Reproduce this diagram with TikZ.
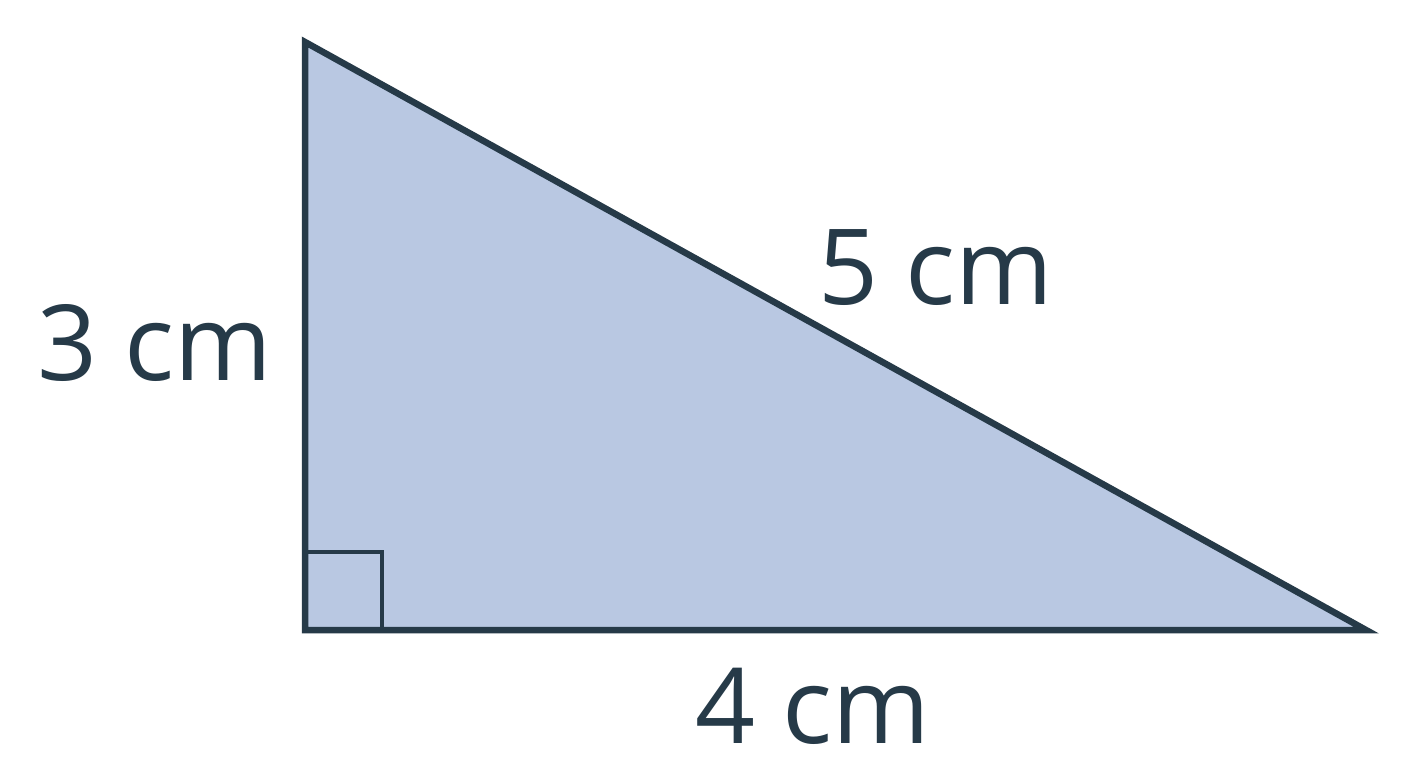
\documentclass[tikz,border=0pt]{standalone}
\usepackage{fontspec}
\setmainfont{Open Sans}
\definecolor{edge}{HTML}{263A48}
\definecolor{fillc}{HTML}{B9C8E2}
\begin{document}
\begin{tikzpicture}[x=1pt,y=-1pt,
  lab/.style={font=\fontsize{105}{112}\selectfont, text=edge, inner sep=0pt, anchor=base}]
\useasboundingbox (0,0) rectangle (1408,768);
\coordinate (A) at (305,42);
\coordinate (B) at (305,630);
\coordinate (C) at (1366,630);
\fill[fillc] (A) -- (B) -- (C) -- cycle;
\draw[edge, line width=3.5pt] (305,552) -- (382,552) -- (382,630);
\draw[edge, line width=6.5pt, line join=miter] (A) -- (B) -- (C) -- cycle;
\node[lab] (l3) at (155,380) {3 cm};
\node[lab] (l5) at (936,304) {5 cm};
\node[lab] (l4) at (813,743) {4 cm};
\end{tikzpicture}
\end{document}
